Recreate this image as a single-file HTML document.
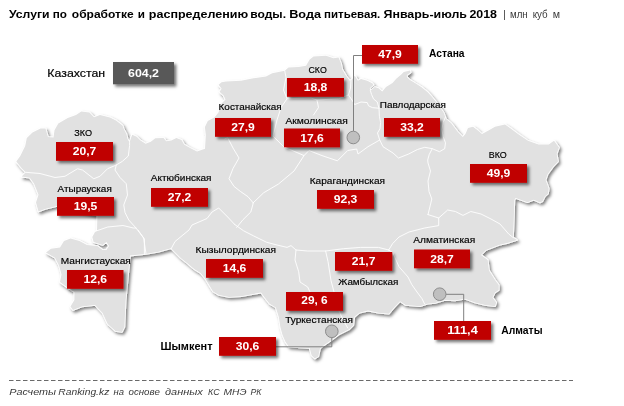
<!DOCTYPE html>
<html lang="ru"><head><meta charset="utf-8"><title>Услуги по обработке и распределению воды</title>
<style>
html,body{margin:0;padding:0;background:#fff}
body{width:624px;height:406px;overflow:hidden;position:relative}
svg{position:absolute;left:0;top:0;display:block}
text{font-family:"Liberation Sans",Arial,sans-serif}
.t{font-weight:bold;font-size:11.6px;fill:#000}
.s{font-size:10.3px;fill:#3a3a3a}
.f{font-style:italic;font-size:9.9px;fill:#3a3a3a}
.v{font-weight:bold;font-size:10.7px;fill:#fff;text-anchor:middle}
.l{fill:#000;stroke:#000;stroke-width:.18px}
.b{font-weight:bold;fill:#000}
</style></head><body>
<svg width="624" height="406" viewBox="0 0 624 406">
<defs>
<filter id="ms" x="-5%" y="-5%" width="110%" height="112%"><feDropShadow dx="1.8" dy="2.1" stdDeviation="1.6" flood-color="#000" flood-opacity="0.5"/></filter>
<filter id="bs" x="-15%" y="-30%" width="135%" height="180%"><feDropShadow dx="2.3" dy="2.3" stdDeviation="1.8" flood-color="#000" flood-opacity="0.55"/></filter>
</defs>
<rect width="624" height="406" fill="#fff"/>
<polygon filter="url(#ms)" fill="#fff" stroke="#fff" stroke-width="1.6" stroke-linejoin="round" points="16.3,161.5 20.3,156 25.2,146 26.8,138 32.5,132.5 40.6,128.5 45.5,128.5 48,137 53.5,137.5 54.5,130.3 58.3,123.5 67.75,118 76,115 81.3,111.6 89.4,112.5 94,117.3 100,115 110,117.5 116,120.5 122.5,125.5 123.8,129 126.4,134 127.7,139.2 129.6,142.6 130.6,139 132.2,134.7 136.7,136.7 140.5,140.5 145.6,143.7 150.8,141.8 155.3,138.2 163.6,138 166.2,141.2 171.3,140.5 176.4,138 181.5,139.9 184.1,144.4 189.2,147.6 197,151.4 205,148.75 205.8,135 204.9,127 207.8,121 214.7,117.3 218.6,112.3 220.6,104.5 225.5,99.5 223.6,95.6 219.6,91.7 221.6,88.7 218.6,84.8 221.6,82.3 226,81.5 241,80.75 253.5,78.25 266,76.5 272.25,73.25 278.5,72 284.75,70.75 288.5,67.5 298.5,67 306,65.75 309.75,59.5 313.5,56.5 326,55.75 333.5,58.25 338.5,57.5 341,63.25 342.25,69.5 346,75.75 349.75,80.75 352,79.5 354.75,75.75 357.9,80.75 361,78.9 367.25,80.75 372.25,83.25 373.5,85 369.75,88.25 370.4,90.75 374.75,87 378.5,88.25 382.25,91.4 386,87 392.5,83.1 396.25,78.75 401.25,74.4 403.75,71.9 410,70.6 410.6,72.5 406.9,75 406.9,76.9 410,80 415,83.1 421.25,86.9 427.5,91.9 432.5,97.5 438.5,105 443.6,112.6 446,119 451,123 457.7,131.8 462.8,137 465.4,134 468,128 473,126.7 478,130.5 482,134 488.5,130.5 495,126.7 505,124.6 510,128 518,134 528,140.8 538.5,144.6 548.7,144.6 554,140.8 559,147.4 556.7,154 558,161.5 553,166.7 547.7,174 545.6,180 547.5,185 548.75,188.75 548,193.75 545,196.25 542.5,201.25 540,202.5 533.75,199.75 527.5,202.25 521.25,200 515.6,198 514.4,200 513.75,220 513,237.4 517,240 509,242.6 499,245 486,250 481,255 487.7,260 489,270.5 495,280 498.75,285 498.75,290 495,292.5 492.5,297.5 496.25,302.5 495,306.25 485,305 475,302.5 465,298.75 455,300.5 445,300 435,303 427.5,303.75 420,306.25 405.6,305 400,301.2 395,306.4 388.75,313.7 378.3,312.7 368,310.6 359.6,312.7 354.4,316.8 353.3,325.2 349.2,329.3 338.75,334.5 330.4,340.8 324.2,345 320,348.5 318.3,356.4 314.8,358.5 311.7,355.4 309.6,348 300,347.5 288.75,346.5 285.4,341.8 282.5,335 280.4,327.25 278.8,317 275.8,307.4 269.6,303.7 264.7,297.6 261,292.6 253.6,293.9 241.3,296.3 229,297 219,295 213,291.4 209.3,285.3 205.6,279 200.6,273 194.5,269.3 187,263 181,258.2 174.8,252 171,248.3 158.5,251.8 145.6,254 130,255.6 128,275.7 125.6,301 124.4,327 122,332 115.4,331 107.7,324 102.6,313 95,305 82,306.5 73,310 70.5,306.5 74.4,300 74.4,292 65.4,286 60,282 61.5,274.4 59,265.4 55,257.7 46,252.6 51,248.7 60,247.4 64,241 70.5,238.5 79.5,241 87,245 97.4,246 102.6,250 106.4,250 109,246 106.4,242 102.6,245 93.6,242 92.3,237 95,232 97,231 97.4,215.4 57,206 45,209 38.5,211.4 36,202.5 38.5,194.8 34,183.5 29.8,177.75 21.7,176.6 25.7,172.3 21.7,168.3"/>
<polygon fill="#e1e1e1" points="16.3,161.5 20.3,156 25.2,146 26.8,138 32.5,132.5 40.6,128.5 45.5,128.5 48,137 53.5,137.5 54.5,130.3 58.3,123.5 67.75,118 76,115 81.3,111.6 89.4,112.5 94,117.3 100,115 110,117.5 116,120.5 122.5,125.5 123.8,129 126.4,134 127.7,139.2 129.6,142.6 130.6,139 132.2,134.7 136.7,136.7 140.5,140.5 145.6,143.7 150.8,141.8 155.3,138.2 163.6,138 166.2,141.2 171.3,140.5 176.4,138 181.5,139.9 184.1,144.4 189.2,147.6 197,151.4 205,148.75 205.8,135 204.9,127 207.8,121 214.7,117.3 218.6,112.3 220.6,104.5 225.5,99.5 223.6,95.6 219.6,91.7 221.6,88.7 218.6,84.8 221.6,82.3 226,81.5 241,80.75 253.5,78.25 266,76.5 272.25,73.25 278.5,72 284.75,70.75 288.5,67.5 298.5,67 306,65.75 309.75,59.5 313.5,56.5 326,55.75 333.5,58.25 338.5,57.5 341,63.25 342.25,69.5 346,75.75 349.75,80.75 352,79.5 354.75,75.75 357.9,80.75 361,78.9 367.25,80.75 372.25,83.25 373.5,85 369.75,88.25 370.4,90.75 374.75,87 378.5,88.25 382.25,91.4 386,87 392.5,83.1 396.25,78.75 401.25,74.4 403.75,71.9 410,70.6 410.6,72.5 406.9,75 406.9,76.9 410,80 415,83.1 421.25,86.9 427.5,91.9 432.5,97.5 438.5,105 443.6,112.6 446,119 451,123 457.7,131.8 462.8,137 465.4,134 468,128 473,126.7 478,130.5 482,134 488.5,130.5 495,126.7 505,124.6 510,128 518,134 528,140.8 538.5,144.6 548.7,144.6 554,140.8 559,147.4 556.7,154 558,161.5 553,166.7 547.7,174 545.6,180 547.5,185 548.75,188.75 548,193.75 545,196.25 542.5,201.25 540,202.5 533.75,199.75 527.5,202.25 521.25,200 515.6,198 514.4,200 513.75,220 513,237.4 517,240 509,242.6 499,245 486,250 481,255 487.7,260 489,270.5 495,280 498.75,285 498.75,290 495,292.5 492.5,297.5 496.25,302.5 495,306.25 485,305 475,302.5 465,298.75 455,300.5 445,300 435,303 427.5,303.75 420,306.25 405.6,305 400,301.2 395,306.4 388.75,313.7 378.3,312.7 368,310.6 359.6,312.7 354.4,316.8 353.3,325.2 349.2,329.3 338.75,334.5 330.4,340.8 324.2,345 320,348.5 318.3,356.4 314.8,358.5 311.7,355.4 309.6,348 300,347.5 288.75,346.5 285.4,341.8 282.5,335 280.4,327.25 278.8,317 275.8,307.4 269.6,303.7 264.7,297.6 261,292.6 253.6,293.9 241.3,296.3 229,297 219,295 213,291.4 209.3,285.3 205.6,279 200.6,273 194.5,269.3 187,263 181,258.2 174.8,252 171,248.3 158.5,251.8 145.6,254 130,255.6 128,275.7 125.6,301 124.4,327 122,332 115.4,331 107.7,324 102.6,313 95,305 82,306.5 73,310 70.5,306.5 74.4,300 74.4,292 65.4,286 60,282 61.5,274.4 59,265.4 55,257.7 46,252.6 51,248.7 60,247.4 64,241 70.5,238.5 79.5,241 87,245 97.4,246 102.6,250 106.4,250 109,246 106.4,242 102.6,245 93.6,242 92.3,237 95,232 97,231 97.4,215.4 57,206 45,209 38.5,211.4 36,202.5 38.5,194.8 34,183.5 29.8,177.75 21.7,176.6 25.7,172.3 21.7,168.3"/>
<g fill="none" stroke="#fff" stroke-width="0.9" stroke-linejoin="round" stroke-linecap="round">
<polyline points="25.7,172.3 40,173.5 55,177.5 65,176.25 77.5,168.75 82.5,170 93.75,178.75 100,176.25 107.5,168.75 116.25,165"/>
<polyline points="129.6,142.6 129.6,145.6 128.3,156 122.5,161.25 116.25,165"/>
<polyline points="116.25,165 115,170 120,177.5 126.25,183.75 127.5,195 123.75,205 125,212.5 128.75,220 136,228 143.6,238 146,253.7"/>
<polyline points="97,230.7 107.7,227 123,225.5 133.3,228 136,228"/>
<polyline points="138,230 144.4,239 144.4,254.4"/>
<polyline points="225,138.75 227.7,137.7 233,148 239,158 233,168.5 229,178.7 234,186.4 240.5,191.5 248,196.7 253.3,203 250.8,212 243,219.7 236.7,227.4"/>
<polyline points="253,203 263.6,192.8 278.5,184 294,171 304,155.6"/>
<polyline points="171,249 175,241.5 189,230 192,225 207,218.5 212,212 218.7,208 227.7,217 234.6,224.4"/>
<polyline points="234.6,224.4 243.6,230.8 253.8,236 266.7,242.3 277,245 287,247.4 291,245.6 296,250 307.7,251 325.6,251 343.6,248.7 360.5,247.4 378.5,247.4 388.7,250"/>
<polyline points="296,250 295,260 298.7,271.8 300,282 307.7,287 310,292"/>
<polyline points="325.6,251 328,261.5 331,280.5 338.7,310 342.6,319 347.7,328"/>
<polyline points="273,136 283.6,146.7 304,155.6 309,150.5 322,155.6 337.4,160.8 347.7,150.5 356.7,149 358,154 368,146.7 379.7,140 383,146.7 393,153 398.5,158 408.7,154 417.4,149.5 424.8,147.3 432.2,148.7 439.5,151.7 444.7,148.7 445.5,142.8 443.2,136.9 441.8,129.5 443.2,122.2 445.5,117"/>
<polyline points="284.75,70.75 286,77.5 283.5,90 287,98.75 281,107.5 277,120 275,128 273,136"/>
<polyline points="287,98.75 311,98 317,100 338.5,98.75 348.5,95 350.5,88 351,80"/>
<polyline points="317,100 318.5,107.5 313.5,115"/>
<polyline points="348.5,95 352,100 354.75,104.5"/>
<polyline points="370.4,90.75 371.6,94.5 373.5,98.9 377.25,102 379,108.25 379.4,116.25 380.6,122.5 380,128.75 377.5,133 379.7,140"/>
<polyline points="354.75,104.5 361,102 367.25,102.6 368.5,105.75 372.25,107.6 379,108.25"/>
<polyline points="432.2,148.7 429.2,154.6 427.7,160 428,163 430.5,171 428,181 429,191.5 431.8,199 428,214.6"/>
<polyline points="428,214.6 438.7,218 447.7,210 455.4,211.5 463,215.4 470.8,211.5 481,214 491,219 500,224 508.7,234 513,237.4"/>
<polyline points="438.7,218 438.7,225.6 424.6,228 409,232 399,237 392.6,243.6 388.7,250"/>
<polyline points="388.7,250 392.6,252.6 399,266.7 408,277 411.8,284.6 417,292 422,298.7 424.6,304"/>
</g>
<g fill="none" stroke="#7f7f7f" stroke-width="1">
<polyline points="353.5,131 353.5,55.5 362,55.5"/>
<polyline points="446,294.3 463.7,294.3 463.7,321"/>
<polyline points="331.8,337 331.8,346.8 276,346.8"/>
</g>
<g fill="#bfbfbf" stroke="#8c8c8c" stroke-width="1">
<circle cx="353.3" cy="137.5" r="6.3"/>
<circle cx="439.7" cy="294.2" r="6.3"/>
<circle cx="331.8" cy="331.3" r="6.3"/>
</g>
<g filter="url(#bs)">
<rect x="113" y="62" width="61" height="22.3" fill="#595959"/>
<rect x="56" y="142" width="57" height="18.8" fill="#c00000"/>
<rect x="57" y="197" width="57" height="18.8" fill="#c00000"/>
<rect x="67" y="270" width="56.5" height="18.8" fill="#c00000"/>
<rect x="151" y="188" width="57" height="18.8" fill="#c00000"/>
<rect x="215" y="118" width="56" height="18.8" fill="#c00000"/>
<rect x="287" y="78" width="57" height="18.8" fill="#c00000"/>
<rect x="284" y="128.5" width="56" height="18.8" fill="#c00000"/>
<rect x="362" y="45" width="56" height="18.8" fill="#c00000"/>
<rect x="384" y="118" width="56" height="18.8" fill="#c00000"/>
<rect x="470" y="164" width="57" height="18.8" fill="#c00000"/>
<rect x="317" y="190" width="57" height="18.8" fill="#c00000"/>
<rect x="206" y="259" width="57" height="18.8" fill="#c00000"/>
<rect x="335" y="252" width="57.3" height="18.8" fill="#c00000"/>
<rect x="414" y="249.5" width="56" height="18.8" fill="#c00000"/>
<rect x="286" y="292" width="57" height="18.8" fill="#c00000"/>
<rect x="219" y="337" width="57" height="18.8" fill="#c00000"/>
<rect x="434" y="321" width="57" height="18.8" fill="#c00000"/>
</g>
<text class="v" x="143.5" y="77.3" textLength="31" lengthAdjust="spacingAndGlyphs">604,2</text>
<text class="v" x="84.5" y="155.4" textLength="23.6" lengthAdjust="spacingAndGlyphs">20,7</text>
<text class="v" x="85.5" y="210.4" textLength="23.6" lengthAdjust="spacingAndGlyphs">19,5</text>
<text class="v" x="95.25" y="283.4" textLength="23.6" lengthAdjust="spacingAndGlyphs">12,6</text>
<text class="v" x="179.5" y="201.4" textLength="23.6" lengthAdjust="spacingAndGlyphs">27,2</text>
<text class="v" x="243" y="131.4" textLength="23.6" lengthAdjust="spacingAndGlyphs">27,9</text>
<text class="v" x="315.5" y="91.4" textLength="23.6" lengthAdjust="spacingAndGlyphs">18,8</text>
<text class="v" x="312" y="141.9" textLength="23.6" lengthAdjust="spacingAndGlyphs">17,6</text>
<text class="v" x="390" y="58.4" textLength="23.6" lengthAdjust="spacingAndGlyphs">47,9</text>
<text class="v" x="412" y="131.4" textLength="23.6" lengthAdjust="spacingAndGlyphs">33,2</text>
<text class="v" x="498.5" y="177.4" textLength="23.6" lengthAdjust="spacingAndGlyphs">49,9</text>
<text class="v" x="345.5" y="203.4" textLength="23.6" lengthAdjust="spacingAndGlyphs">92,3</text>
<text class="v" x="234.5" y="272.4" textLength="23.6" lengthAdjust="spacingAndGlyphs">14,6</text>
<text class="v" x="363.65" y="265.4" textLength="23.6" lengthAdjust="spacingAndGlyphs">21,7</text>
<text class="v" x="442" y="262.9" textLength="23.6" lengthAdjust="spacingAndGlyphs">28,7</text>
<text class="v" x="314.5" y="304.3" textLength="26.4" lengthAdjust="spacingAndGlyphs">29, 6</text>
<text class="v" x="247.5" y="350.4" textLength="23.6" lengthAdjust="spacingAndGlyphs">30,6</text>
<text class="v" x="462.5" y="334.4" textLength="30.6" lengthAdjust="spacingAndGlyphs">111,4</text>
<text class="l" font-size="9.7" x="74.2" y="135.8" textLength="17.8" lengthAdjust="spacingAndGlyphs">ЗКО</text>
<text class="l" font-size="9.7" x="57.6" y="191.9" textLength="54.15" lengthAdjust="spacingAndGlyphs">Атырауская</text>
<text class="l" font-size="9.7" x="60.8" y="264" textLength="70" lengthAdjust="spacingAndGlyphs">Мангистауская</text>
<text class="l" font-size="9.7" x="150.8" y="180.5" textLength="60.7" lengthAdjust="spacingAndGlyphs">Актюбинская</text>
<text class="l" font-size="9.7" x="218.6" y="110.4" textLength="63.1" lengthAdjust="spacingAndGlyphs">Костанайская</text>
<text class="l" font-size="9.7" x="308.5" y="72.6" textLength="18.25" lengthAdjust="spacingAndGlyphs">СКО</text>
<text class="l" font-size="9.7" x="285.5" y="123.75" textLength="62.25" lengthAdjust="spacingAndGlyphs">Акмолинская</text>
<text class="l" font-size="9.7" x="379.75" y="108" textLength="66.25" lengthAdjust="spacingAndGlyphs">Павлодарская</text>
<text class="l" font-size="9.7" x="488.75" y="157.75" textLength="18" lengthAdjust="spacingAndGlyphs">ВКО</text>
<text class="l" font-size="9.7" x="309.7" y="184.4" textLength="75.3" lengthAdjust="spacingAndGlyphs">Карагандинская</text>
<text class="l" font-size="9.7" x="195.6" y="252.5" textLength="80.4" lengthAdjust="spacingAndGlyphs">Кызылординская</text>
<text class="l" font-size="9.7" x="338.2" y="284.5" textLength="60.1" lengthAdjust="spacingAndGlyphs">Жамбылская</text>
<text class="l" font-size="9.7" x="413.3" y="243" textLength="61.9" lengthAdjust="spacingAndGlyphs">Алматинская</text>
<text class="l" font-size="9.7" x="285.2" y="322.6" textLength="67.8" lengthAdjust="spacingAndGlyphs">Туркестанская</text>
<text class="l" font-size="11.5" x="47.3" y="76.6" textLength="57.9" lengthAdjust="spacingAndGlyphs">Казахстан</text>
<text class="b" font-size="11.2" x="429" y="56.5" textLength="35.5" lengthAdjust="spacingAndGlyphs">Астана</text>
<text class="b" font-size="11.2" x="501.25" y="334.3" textLength="41.25" lengthAdjust="spacingAndGlyphs">Алматы</text>
<text class="b" font-size="11.2" x="160.5" y="350" textLength="52" lengthAdjust="spacingAndGlyphs">Шымкент</text>
<text class="t" y="17.6"><tspan x="9" textLength="40.6" lengthAdjust="spacingAndGlyphs">Услуги</tspan> <tspan x="52.8" textLength="14.2" lengthAdjust="spacingAndGlyphs">по</tspan> <tspan x="71.8" textLength="61.8" lengthAdjust="spacingAndGlyphs">обработке</tspan> <tspan x="137.8" textLength="7.2" lengthAdjust="spacingAndGlyphs">и</tspan> <tspan x="148.8" textLength="99.4" lengthAdjust="spacingAndGlyphs">распределению</tspan> <tspan x="250.2" textLength="35.8" lengthAdjust="spacingAndGlyphs">воды.</tspan> <tspan x="289.2" textLength="31.8" lengthAdjust="spacingAndGlyphs">Вода</tspan> <tspan x="324" textLength="56.3" lengthAdjust="spacingAndGlyphs">питьевая.</tspan> <tspan x="383.5" textLength="83.5" lengthAdjust="spacingAndGlyphs">Январь-июль</tspan> <tspan x="469.4" textLength="27.6" lengthAdjust="spacingAndGlyphs">2018</tspan></text>
<text class="s" x="503.3" y="17.7">|</text>
<text class="s" x="510" y="17.7" textLength="17.7" lengthAdjust="spacingAndGlyphs">млн</text>
<text class="s" x="532.7" y="17.7" textLength="15" lengthAdjust="spacingAndGlyphs">куб</text>
<text class="s" x="552.7" y="17.7" textLength="7.3" lengthAdjust="spacingAndGlyphs">м</text>
<line x1="9" y1="380.5" x2="573" y2="380.5" stroke="#6a6a6a" stroke-width="1" stroke-dasharray="4.5 2.5"/>
<text class="f" y="394.9"><tspan x="9.3" textLength="46.7" lengthAdjust="spacingAndGlyphs">Расчеты</tspan> <tspan x="58.3" textLength="51" lengthAdjust="spacingAndGlyphs">Ranking.kz</tspan> <tspan x="113.5" textLength="10.5" lengthAdjust="spacingAndGlyphs">на</tspan> <tspan x="128.5" textLength="31.3" lengthAdjust="spacingAndGlyphs">основе</tspan> <tspan x="165" textLength="37.8" lengthAdjust="spacingAndGlyphs">данных</tspan> <tspan x="208" textLength="11.6" lengthAdjust="spacingAndGlyphs">КС</tspan> <tspan x="223.5" textLength="23" lengthAdjust="spacingAndGlyphs">МНЭ</tspan> <tspan x="250.5" textLength="11" lengthAdjust="spacingAndGlyphs">РК</tspan></text>
</svg>
</body></html>
